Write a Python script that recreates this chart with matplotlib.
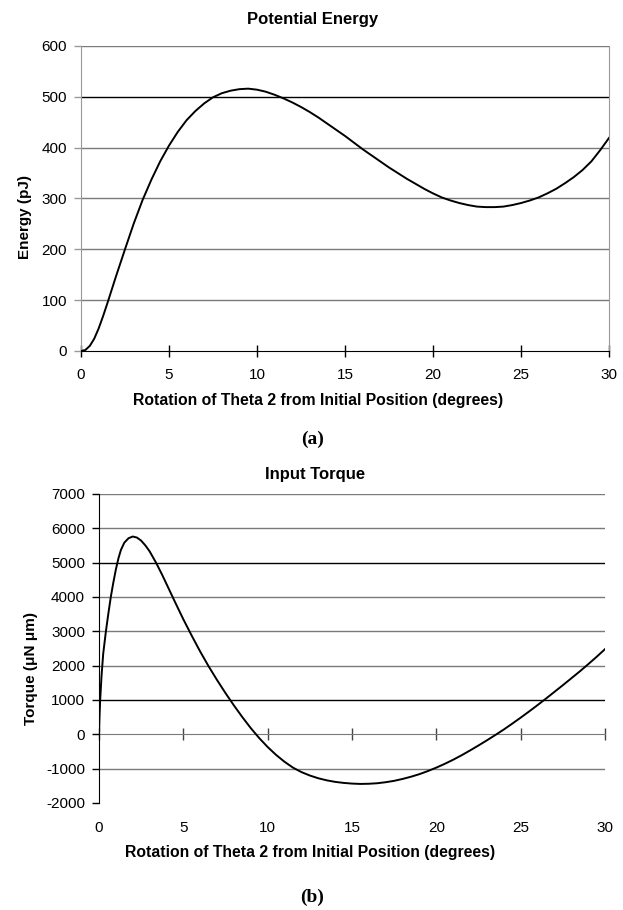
import numpy as np
import matplotlib.pyplot as plt

# Potential energy curve (pJ) vs rotation of theta 2 (degrees)
pe_angle = [0, 0.25, 0.5, 0.75, 1.0, 1.25, 1.5, 2.0, 2.5, 3.0, 3.5, 4.0, 4.5, 5.0,
            5.5, 6.0, 6.5, 7.0, 7.5, 8.0, 8.5, 9.0, 9.5, 10.0, 10.5, 11.0, 11.5,
            12.0, 12.5, 13.0, 13.5, 14.0, 14.5, 15.0, 15.5, 16.0, 16.5, 17.0, 17.5,
            18.0, 18.5, 19.0, 19.5, 20.0, 20.5, 21.0, 21.5, 22.0, 22.5, 23.0, 23.5,
            24.0, 24.5, 25.0, 25.5, 26.0, 26.5, 27.0, 27.5, 28.0, 28.5, 29.0, 29.5, 30.0]
pe_energy = [0, 2, 10, 24, 44, 68, 94, 148, 200, 251, 297, 337, 373, 404,
             431, 454, 472, 487, 499, 507, 512, 515, 516, 514, 510, 504, 497,
             489, 480, 470, 459, 447, 435, 423, 410, 397, 385, 373, 361,
             350, 339, 329, 319, 310, 302, 296, 291, 287, 284, 283, 283,
             284, 287, 291, 296, 302, 310, 319, 330, 342, 356, 373, 395, 419]

# Input torque (uN um) vs rotation of theta 2 (degrees)
tq_angle = [0, 0.03, 0.07, 0.15, 0.25, 0.41, 0.55, 0.7, 0.85, 1.0, 1.15, 1.3, 1.5,
            1.75, 2.0, 2.25, 2.5, 2.75, 3.0, 3.38, 3.75, 4.0, 4.5, 5.0, 5.5, 6.0,
            6.5, 7.0, 7.5, 8.0, 8.5, 9.0, 9.5, 10.0, 10.5, 11.0, 11.5, 12.0, 12.5,
            13.0, 13.5, 14.0, 14.5, 15.0, 15.5, 16.0, 16.5, 17.0, 17.5, 18.0, 18.5,
            19.0, 19.5, 20.0, 20.5, 21.0, 21.5, 22.0, 22.5, 23.0, 23.5, 24.0, 24.5,
            25.0, 25.5, 26.0, 26.5, 27.0, 27.5, 28.0, 28.5, 29.0, 29.5, 30.0]
tq_torque = [0, 500, 1000, 1700, 2350, 3000, 3500, 4000, 4420, 4800, 5120, 5370, 5580,
             5710, 5760, 5730, 5640, 5500, 5330, 5000, 4640, 4380, 3860, 3350, 2870, 2410,
             1980, 1580, 1200, 840, 500, 180, -110, -370, -600, -800, -970, -1100, -1200,
             -1280, -1340, -1385, -1415, -1435, -1445, -1440, -1425, -1395, -1355, -1300, -1235,
             -1160, -1070, -970, -860, -740, -610, -470, -325, -175, -20, 140, 310,
             485, 665, 850, 1040, 1235, 1430, 1630, 1830, 2040, 2255, 2480]

pe_yticks = [0, 100, 200, 300, 400, 500, 600]
tq_yticks = [-2000, -1000, 0, 1000, 2000, 3000, 4000, 5000, 6000, 7000]
xticks = [0, 5, 10, 15, 20, 25, 30]

plt.rcParams['font.family'] = ['Liberation Sans', 'DejaVu Sans']
plt.rcParams['axes.unicode_minus'] = False
grey = '#7a7a7a'
tick_fs = 11

fig = plt.figure(figsize=(6.23, 9.10), dpi=100)

# ---- (a) Potential Energy ----
ax1 = fig.add_axes([0.130, 0.6143, 0.8475, 0.3352])
for v in pe_yticks[1:]:
    ax1.axhline(v, color='black' if v == 500 else grey, lw=1.0, zorder=1)
ax1.plot(pe_angle, pe_energy, color='black', lw=1.4, zorder=3)
ax1.set_xlim(0, 30)
ax1.set_ylim(0, 600)
ax1.set_xticks(xticks)
ax1.set_yticks(pe_yticks)
ax1.spines['top'].set_visible(False)
ax1.spines['left'].set_color('#999999')
ax1.spines['right'].set_color('#999999')
ax1.spines['bottom'].set_color('black')
ax1.tick_params(axis='x', direction='inout', length=8, width=1, color='black',
                pad=8, labelsize=tick_fs)
ax1.tick_params(axis='y', direction='out', length=5, width=1, color='#999999',
                pad=5, labelsize=tick_fs)
ax1.set_title('Potential Energy', fontsize=12, fontweight='bold', pad=16, x=0.438)
ax1.set_xlabel('Rotation of Theta 2 from Initial Position (degrees)',
               fontsize=11.3, fontweight='bold', labelpad=8)
ax1.xaxis.label.set_x(0.449)
ax1.set_ylabel('Energy (pJ)', fontsize=11, fontweight='bold', labelpad=7)
ax1.yaxis.label.set_y(0.439)
fig.text(0.501, 1 - 439 / 910, '(a)', family='Liberation Serif', fontsize=14,
         fontweight='bold', ha='center', va='center')

# ---- (b) Input Torque ----
ax2 = fig.add_axes([0.1589, 0.1176, 0.8122, 0.3396])
for v in tq_yticks[1:]:
    if v == 0:
        continue
    ax2.axhline(v, color='black' if v in (1000, 5000) else grey, lw=1.0, zorder=1)
ax2.plot(tq_angle, tq_torque, color='black', lw=1.4, zorder=3)
ax2.set_xlim(0, 30)
ax2.set_ylim(-2000, 7000)
ax2.set_xticks(xticks)
ax2.set_yticks(tq_yticks)
ax2.spines['top'].set_visible(False)
ax2.spines['right'].set_visible(False)
ax2.spines['bottom'].set_visible(False)
ax2.spines['left'].set_color('black')
ax2.tick_params(axis='x', length=0, pad=13, labelsize=tick_fs)
ax2.tick_params(axis='y', direction='out', length=5, width=1, color='black',
                pad=5, labelsize=tick_fs)
# zero axis line with crossing ticks
zero_ax = ax2.secondary_xaxis(2 / 9)
zero_ax.set_xticks(xticks)
zero_ax.spines['bottom'].set_color(grey)
zero_ax.tick_params(direction='inout', length=8, width=1, color='#444444',
                    labelbottom=False)
ax2.set_title('Input Torque', fontsize=12, fontweight='bold', pad=11, x=0.427)
ax2.set_xlabel('Rotation of Theta 2 from Initial Position (degrees)',
               fontsize=11.3, fontweight='bold', labelpad=7)
ax2.xaxis.label.set_x(0.417)
ax2.set_ylabel('Torque (\u03bcN \u03bcm)', fontsize=11, fontweight='bold', labelpad=6)
ax2.yaxis.label.set_y(0.434)
fig.text(0.501, 1 - 897 / 910, '(b)', family='Liberation Serif', fontsize=14,
         fontweight='bold', ha='center', va='center')

fig.savefig('out.png', dpi=100)
